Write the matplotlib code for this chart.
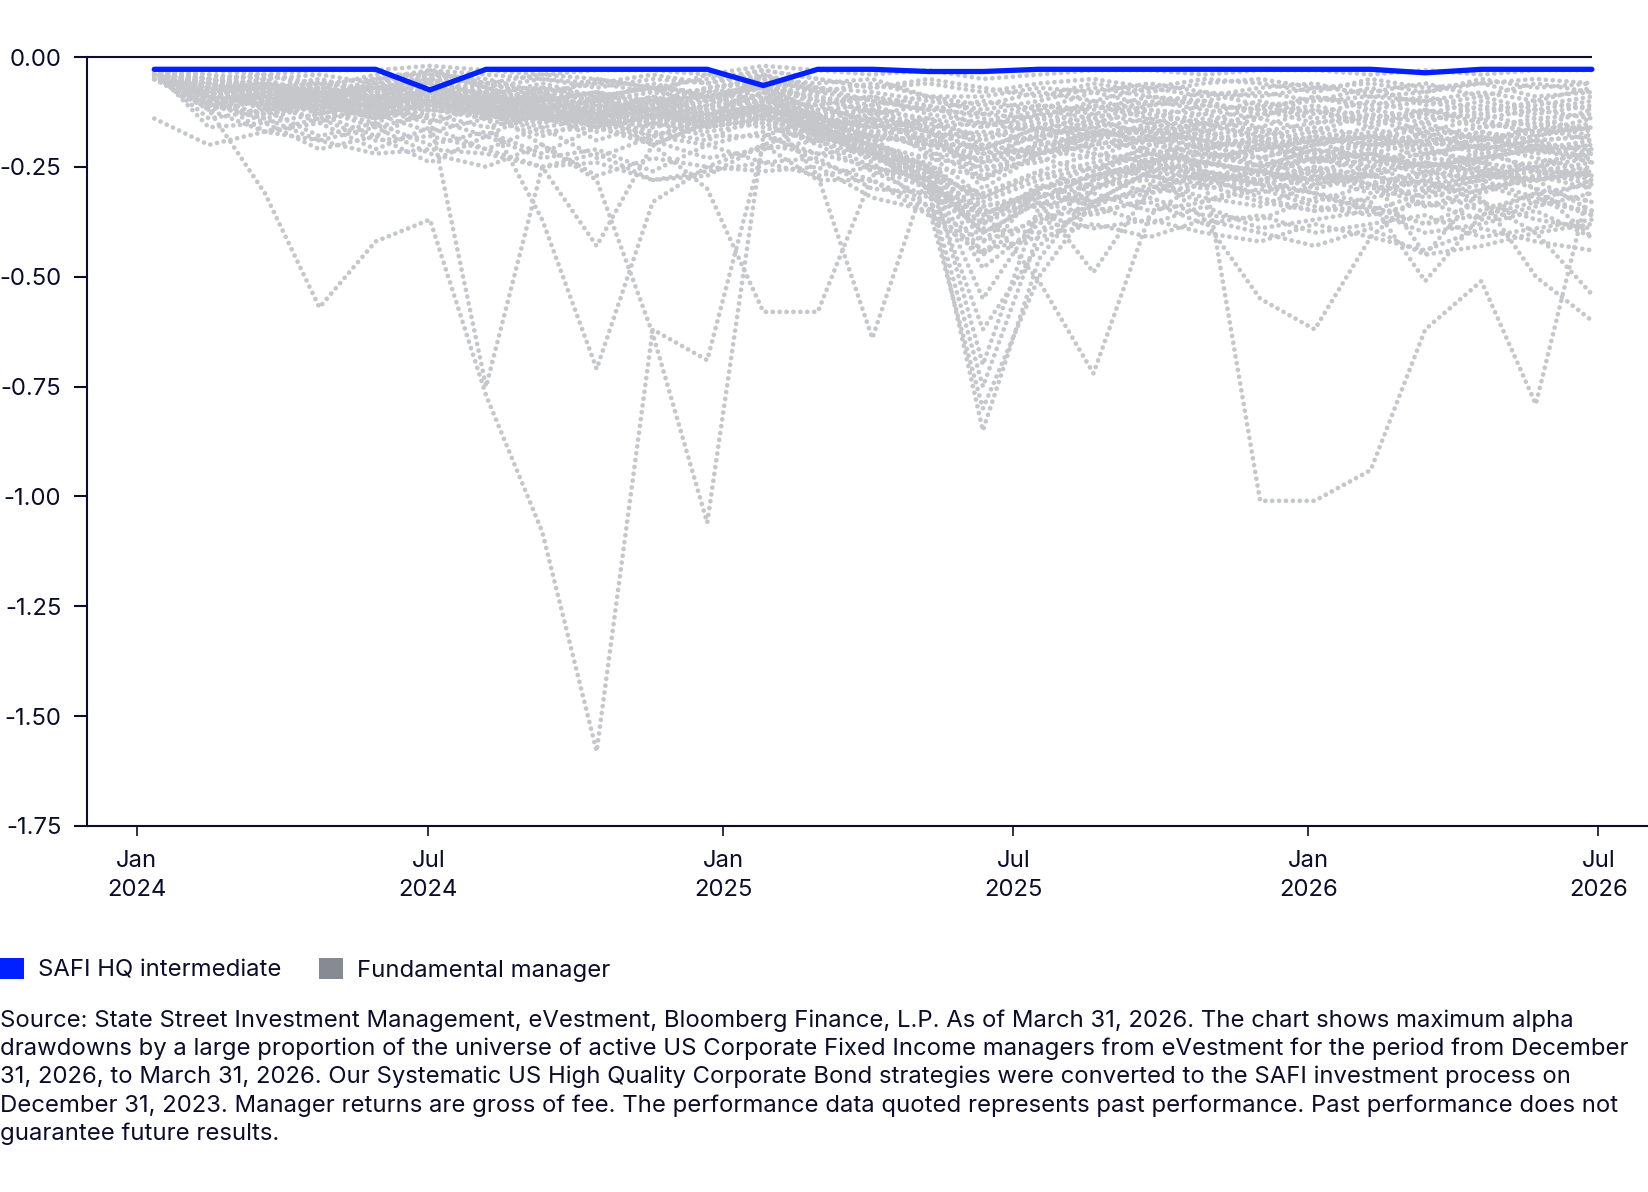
import numpy as np
import pandas as pd
import matplotlib
matplotlib.use("Agg")
import matplotlib.pyplot as plt
import matplotlib.dates as mdates
from matplotlib.patches import Patch
from matplotlib.ticker import FuncFormatter

plt.rcParams['font.family'] = ['Inter', 'DejaVu Sans']

NAVY = '#0B0D2B'
BLUE = '#0020FF'
GREY_LINE = '#C5C7CB'
GREY_KEY = '#868A93'
FS = 17.2

# observation dates (27 points)
dates = pd.to_datetime([
    '2024-01-12', '2024-02-15', '2024-03-21', '2024-04-24', '2024-05-29',
    '2024-07-02', '2024-08-06', '2024-09-10', '2024-10-14', '2024-11-18',
    '2024-12-22', '2025-01-26', '2025-03-01', '2025-04-04', '2025-05-09',
    '2025-06-12', '2025-07-17', '2025-08-20', '2025-09-24', '2025-10-28',
    '2025-12-02', '2026-01-05', '2026-02-09', '2026-03-15', '2026-04-19',
    '2026-05-23', '2026-06-27',
])

# SAFI HQ intermediate alpha drawdown
safi = [-0.028, -0.028, -0.028, -0.028, -0.028, -0.075, -0.028, -0.028, -0.028,
        -0.028, -0.028, -0.065, -0.028, -0.028, -0.033, -0.033, -0.028, -0.028,
        -0.028, -0.028, -0.028, -0.028, -0.028, -0.036, -0.028, -0.028, -0.028]

# fundamental managers: drawdown size in hundredths (plotted as negative)
shallow = [
    [3, 3, 4, 3, 3, 2, 3, 4, 3, 3, 4, 2, 3, 4, 3, 5, 4, 3, 3, 4, 3, 3, 4, 3, 4, 3, 3],
    [3, 5, 4, 6, 5, 3, 6, 4, 5, 7, 5, 3, 5, 7, 6, 8, 6, 5, 7, 5, 6, 8, 5, 7, 6, 5, 6],
    [3, 4, 7, 5, 8, 4, 5, 8, 6, 4, 6, 4, 8, 6, 9, 11, 8, 10, 7, 9, 7, 6, 9, 8, 6, 9, 8],
    [4, 7, 5, 9, 6, 5, 9, 6, 9, 7, 9, 6, 7, 10, 12, 10, 12, 8, 11, 8, 11, 10, 7, 11, 9, 12, 10],
    [3, 6, 9, 7, 10, 3, 7, 10, 8, 11, 7, 5, 10, 9, 13, 15, 11, 13, 10, 12, 14, 9, 12, 10, 13, 10, 12],
    [4, 8, 6, 10, 7, 6, 11, 8, 12, 9, 12, 4, 9, 13, 11, 14, 16, 11, 14, 11, 12, 15, 13, 15, 11, 14, 13],
    [3, 9, 11, 8, 12, 8, 8, 12, 10, 13, 10, 7, 12, 11, 15, 18, 13, 15, 12, 16, 13, 12, 16, 12, 15, 17, 14],
    [5, 6, 10, 12, 9, 10, 13, 9, 14, 10, 14, 8, 14, 16, 14, 19, 15, 17, 16, 14, 17, 15, 14, 18, 16, 15, 18],
    [3, 10, 8, 11, 13, 7, 10, 14, 11, 15, 12, 10, 11, 15, 18, 17, 19, 14, 18, 15, 19, 17, 19, 16, 19, 17, 16],
    [4, 5, 12, 9, 11, 12, 14, 11, 15, 12, 16, 9, 15, 13, 17, 21, 16, 19, 15, 18, 16, 20, 17, 20, 17, 21, 19],
    [3, 8, 6, 13, 10, 5, 12, 15, 9, 14, 11, 6, 13, 17, 16, 22, 18, 16, 20, 17, 21, 18, 21, 17, 21, 19, 22],
    [4, 11, 13, 10, 14, 9, 9, 13, 16, 11, 15, 11, 16, 14, 20, 20, 22, 18, 17, 21, 18, 22, 19, 23, 18, 22, 20],
    [4, 5, 7, 10, 6, 8, 11, 7, 9, 12, 7, 6, 10, 18, 19, 24, 17, 21, 19, 16, 23, 20, 18, 21, 24, 20, 23],
    [3, 8, 7, 6, 11, 7, 8, 12, 9, 7, 12, 8, 18, 15, 22, 23, 20, 17, 22, 20, 19, 24, 22, 19, 22, 25, 21],
    [4, 6, 10, 9, 8, 9, 12, 9, 13, 10, 9, 7, 14, 19, 18, 26, 21, 23, 18, 23, 21, 19, 24, 22, 20, 23, 26],
    [3, 5, 8, 11, 9, 6, 7, 12, 10, 13, 9, 9, 17, 20, 23, 25, 24, 19, 21, 24, 20, 23, 21, 25, 23, 21, 24],
    [5, 9, 6, 8, 12, 10, 9, 8, 13, 9, 14, 6, 19, 17, 21, 28, 19, 22, 24, 19, 25, 21, 25, 20, 26, 24, 22],
    [4, 7, 11, 9, 7, 8, 12, 10, 8, 12, 10, 10, 13, 21, 25, 27, 23, 26, 20, 22, 23, 26, 23, 27, 21, 26, 27],
    [3, 4, 5, 4, 6, 3, 4, 5, 7, 5, 6, 3, 5, 7, 5, 7, 9, 6, 8, 6, 5, 7, 6, 8, 5, 7, 6],
    [4, 6, 4, 7, 4, 4, 7, 5, 6, 8, 4, 5, 6, 5, 9, 9, 7, 8, 6, 8, 9, 7, 8, 6, 9, 6, 8],
    [3, 5, 8, 6, 7, 5, 6, 9, 5, 7, 8, 4, 7, 8, 10, 12, 10, 7, 9, 10, 8, 10, 9, 10, 8, 10, 7],
    [3, 7, 6, 8, 9, 6, 8, 7, 10, 6, 9, 7, 9, 11, 9, 13, 11, 12, 9, 11, 12, 9, 11, 9, 12, 11, 9],
    [4, 8, 9, 6, 8, 7, 9, 10, 8, 10, 7, 5, 8, 10, 12, 13, 14, 10, 12, 13, 10, 13, 10, 13, 10, 13, 11],
    [3, 5, 7, 9, 5, 4, 6, 8, 10, 8, 10, 6, 11, 9, 11, 16, 12, 14, 11, 10, 13, 11, 14, 12, 14, 12, 14],
    [5, 9, 7, 10, 11, 8, 10, 9, 11, 12, 8, 7, 10, 12, 14, 16, 13, 11, 13, 15, 11, 14, 12, 14, 13, 16, 12],
    [3, 6, 10, 8, 12, 9, 12, 10, 13, 9, 13, 8, 12, 14, 16, 15, 17, 13, 15, 13, 16, 12, 15, 13, 16, 14, 17],
    [4, 10, 8, 12, 9, 6, 8, 13, 11, 14, 11, 9, 13, 12, 17, 19, 14, 16, 14, 17, 14, 17, 13, 17, 14, 18, 15],
    [3, 7, 11, 10, 13, 11, 14, 11, 14, 12, 15, 10, 14, 16, 15, 20, 18, 15, 17, 15, 18, 16, 18, 15, 19, 16, 19],
    [5, 11, 9, 13, 10, 9, 11, 15, 12, 16, 13, 11, 16, 15, 19, 21, 16, 18, 16, 19, 17, 19, 16, 20, 17, 19, 18],
    [4, 8, 12, 11, 14, 12, 13, 12, 16, 13, 14, 12, 15, 18, 20, 22, 21, 17, 19, 18, 20, 18, 20, 19, 18, 21, 20],
]

middle = [
    [4, 10, 13, 11, 14, 10, 13, 15, 12, 15, 13, 12, 16, 19, 25, 33, 28, 25, 27, 29, 26, 30, 27, 29, 31, 27, 30],
    [5, 8, 11, 14, 12, 15, 11, 14, 17, 13, 16, 14, 15, 22, 27, 31, 26, 30, 25, 28, 31, 27, 31, 28, 26, 30, 33],
    [3, 11, 9, 12, 16, 13, 16, 13, 15, 18, 14, 16, 19, 18, 29, 36, 30, 27, 31, 26, 29, 33, 29, 32, 29, 33, 28],
    [4, 8, 14, 11, 13, 17, 14, 18, 14, 17, 19, 13, 17, 23, 24, 34, 32, 29, 28, 32, 34, 29, 26, 34, 30, 28, 35],
    [5, 12, 10, 15, 11, 14, 18, 12, 19, 15, 18, 18, 22, 21, 30, 38, 29, 33, 30, 27, 32, 35, 32, 30, 35, 31, 36],
    [3, 9, 15, 13, 18, 12, 13, 17, 16, 20, 15, 15, 20, 26, 32, 35, 34, 31, 35, 33, 30, 34, 36, 33, 37, 34, 31],
    [4, 14, 12, 18, 15, 20, 17, 22, 16, 19, 23, 21, 19, 25, 28, 40, 33, 36, 32, 36, 37, 32, 34, 38, 33, 37, 39],
    [5, 9, 17, 15, 21, 16, 21, 16, 23, 18, 20, 17, 24, 28, 34, 42, 37, 34, 38, 34, 39, 37, 35, 40, 38, 35, 41],
    [3, 16, 15, 21, 18, 24, 18, 23, 21, 26, 20, 24, 23, 30, 31, 39, 40, 35, 33, 38, 36, 40, 38, 36, 41, 39, 37],
    [4, 12, 17, 14, 19, 18, 21, 25, 22, 28, 27, 20, 28, 28, 36, 45, 36, 39, 37, 40, 42, 38, 41, 44, 39, 42, 44],
    [5, 11, 14, 19, 16, 22, 25, 20, 27, 23, 25, 26, 25, 32, 35, 44, 41, 38, 41, 37, 40, 43, 39, 45, 43, 40, 38],
    [3, 7, 10, 12, 15, 10, 13, 16, 14, 18, 15, 13, 17, 21, 26, 37, 31, 34, 29, 33, 28, 31, 35, 31, 28, 32, 36],
]

deep = [
    [3, 5, 7, 9, 12, 14, 75, 25, 43, 20, 15, 12, 14, 18, 16, 28, 22, 20, 18, 21, 19, 22, 20, 18, 21, 19, 18],
    [4, 6, 8, 7, 9, 10, 12, 20, 28, 63, 106, 18, 14, 12, 16, 30, 22, 18, 16, 20, 23, 20, 18, 22, 20, 18, 16],
    [4, 12, 31, 57, 42, 37, 77, 108, 158, 62, 69, 20, 16, 14, 17, 24, 20, 18, 17, 19, 21, 19, 18, 20, 19, 17, 16],
    [14, 20, 17, 19, 22, 21, 22, 25, 24, 28, 26, 24, 27, 25, 30, 34, 31, 33, 31, 29, 33, 35, 34, 38, 36, 33, 35],
    [3, 6, 8, 10, 9, 11, 13, 37, 71, 33, 25, 20, 22, 25, 28, 48, 38, 30, 27, 30, 28, 26, 29, 27, 25, 28, 26],
    [4, 6, 7, 8, 9, 10, 9, 11, 13, 20, 30, 58, 58, 27, 22, 32, 26, 22, 24, 21, 25, 23, 22, 25, 23, 21, 23],
    [3, 5, 6, 8, 7, 9, 10, 9, 11, 13, 15, 12, 27, 64, 26, 45, 30, 25, 22, 24, 26, 23, 25, 23, 24, 26, 24],
    [4, 5, 7, 8, 9, 8, 10, 11, 10, 12, 14, 12, 16, 22, 30, 85, 46, 30, 24, 22, 25, 21, 23, 25, 22, 20, 21],
    [3, 6, 8, 7, 9, 10, 9, 11, 12, 11, 13, 11, 15, 24, 34, 80, 50, 33, 26, 28, 24, 27, 29, 26, 28, 25, 27],
    [5, 6, 8, 10, 9, 11, 12, 11, 13, 12, 14, 12, 16, 20, 26, 35, 51, 72, 36, 28, 26, 29, 27, 30, 28, 26, 29],
    [4, 5, 7, 8, 9, 8, 10, 11, 10, 12, 13, 11, 14, 18, 20, 24, 22, 20, 18, 26, 101, 101, 94, 62, 51, 79, 27],
    [5, 7, 9, 10, 11, 10, 12, 13, 12, 14, 15, 13, 17, 21, 25, 36, 30, 27, 25, 37, 55, 62, 41, 30, 27, 25, 28],
    [4, 6, 8, 10, 12, 11, 13, 14, 13, 15, 17, 15, 19, 23, 28, 40, 33, 49, 30, 24, 26, 28, 25, 29, 27, 28, 26],
    [3, 5, 7, 9, 11, 10, 12, 14, 13, 15, 16, 14, 18, 22, 30, 75, 40, 28, 23, 26, 28, 25, 27, 24, 26, 28, 27],
    [4, 6, 8, 9, 11, 12, 11, 13, 14, 13, 15, 14, 18, 22, 28, 38, 32, 27, 24, 26, 28, 25, 29, 34, 32, 50, 60],
    [3, 5, 7, 9, 10, 9, 11, 12, 14, 12, 14, 13, 17, 21, 27, 55, 36, 28, 25, 27, 29, 26, 30, 28, 33, 40, 54],
    [5, 7, 9, 11, 10, 12, 13, 12, 14, 16, 14, 12, 16, 20, 25, 70, 34, 26, 22, 25, 21, 24, 22, 26, 24, 30, 41],
    [4, 5, 8, 9, 11, 10, 12, 14, 13, 14, 16, 14, 18, 22, 26, 32, 27, 24, 21, 24, 26, 28, 27, 45, 30, 27, 25],
    [3, 5, 7, 8, 9, 11, 10, 12, 13, 12, 13, 12, 16, 20, 25, 42, 30, 27, 24, 27, 29, 31, 33, 51, 36, 31, 29],
    [5, 6, 8, 10, 12, 11, 13, 14, 15, 14, 15, 13, 17, 21, 28, 62, 43, 33, 26, 24, 27, 23, 26, 24, 27, 25, 23],
]

y_ticks = [0, -0.25, -0.5, -0.75, -1.0, -1.25, -1.5, -1.75]

source_text = (
    "Source: State Street Investment Management, eVestment, Bloomberg Finance, L.P. As of March 31, 2026. The chart shows maximum alpha\n"
    "drawdowns by a large proportion of the universe of active US Corporate Fixed Income managers from eVestment for the period from December\n"
    "31, 2026, to March 31, 2026. Our Systematic US High Quality Corporate Bond strategies were converted to the SAFI investment process on\n"
    "December 31, 2023. Manager returns are gross of fee. The performance data quoted represents past performance. Past performance does not\n"
    "guarantee future results."
)

managers = shallow + middle + deep
for k, row in enumerate(managers):
    if len(row) != len(dates):
        raise ValueError(f"row {k} has {len(row)} values")

W, H = 1648, 1192
fig = plt.figure(figsize=(W / 100, H / 100), dpi=100)
ax = fig.add_axes([87 / W, 1 - 826 / H, 1 - 87 / W, (826 - 57) / H])

for row in managers:
    ax.plot(dates, -np.array(row) / 100, color=GREY_LINE, lw=3.4,
            linestyle=(0, (0.01, 1.45)), dash_capstyle='round', zorder=2)

ax.plot(dates, safi, color=BLUE, lw=3.8, solid_capstyle='round',
        solid_joinstyle='miter', zorder=4)

xmin = pd.Timestamp('2023-12-01')
xmax = pd.Timestamp('2026-08-01')
ax.set_xlim(xmin, xmax)
ax.set_ylim(-1.75, 0)
ax.hlines(0, xmin, dates[-1], color=NAVY, lw=1.5, zorder=5, clip_on=False)

for s in ['top', 'right']:
    ax.spines[s].set_visible(False)
for s in ['left', 'bottom']:
    ax.spines[s].set_color(NAVY)
    ax.spines[s].set_linewidth(1.5)

ax.set_yticks(y_ticks)
ax.yaxis.set_major_formatter(FuncFormatter(lambda v, p: f"{v:.2f}"))
ax.xaxis.set_major_locator(mdates.MonthLocator(bymonth=[1, 7]))
ax.xaxis.set_major_formatter(mdates.DateFormatter('%b\n%Y'))
ax.tick_params(axis='y', length=9.5, width=1.5, color=NAVY, labelcolor=NAVY,
               labelsize=FS, pad=9)
ax.tick_params(axis='x', length=7, width=1.2, color=NAVY, labelcolor=NAVY,
               labelsize=FS, pad=10)
for lab in ax.get_xticklabels():
    lab.set_linespacing(1.45)

handles = [Patch(facecolor=BLUE, edgecolor='none', label='SAFI HQ intermediate'),
           Patch(facecolor=GREY_KEY, edgecolor='none', label='Fundamental manager')]
fig.legend(handles=handles, loc='upper left', bbox_to_anchor=(0, 1 - 958 / H),
           ncol=2, frameon=False, fontsize=FS, handlelength=1.0, handleheight=1.0,
           handletextpad=0.6, columnspacing=1.55, borderpad=0, borderaxespad=0,
           labelcolor=NAVY)

fig.text(0, 1 - 1009 / H, source_text, ha='left', va='top', fontsize=FS,
         color=NAVY, linespacing=1.34)

fig.savefig('out.png', dpi=100)
